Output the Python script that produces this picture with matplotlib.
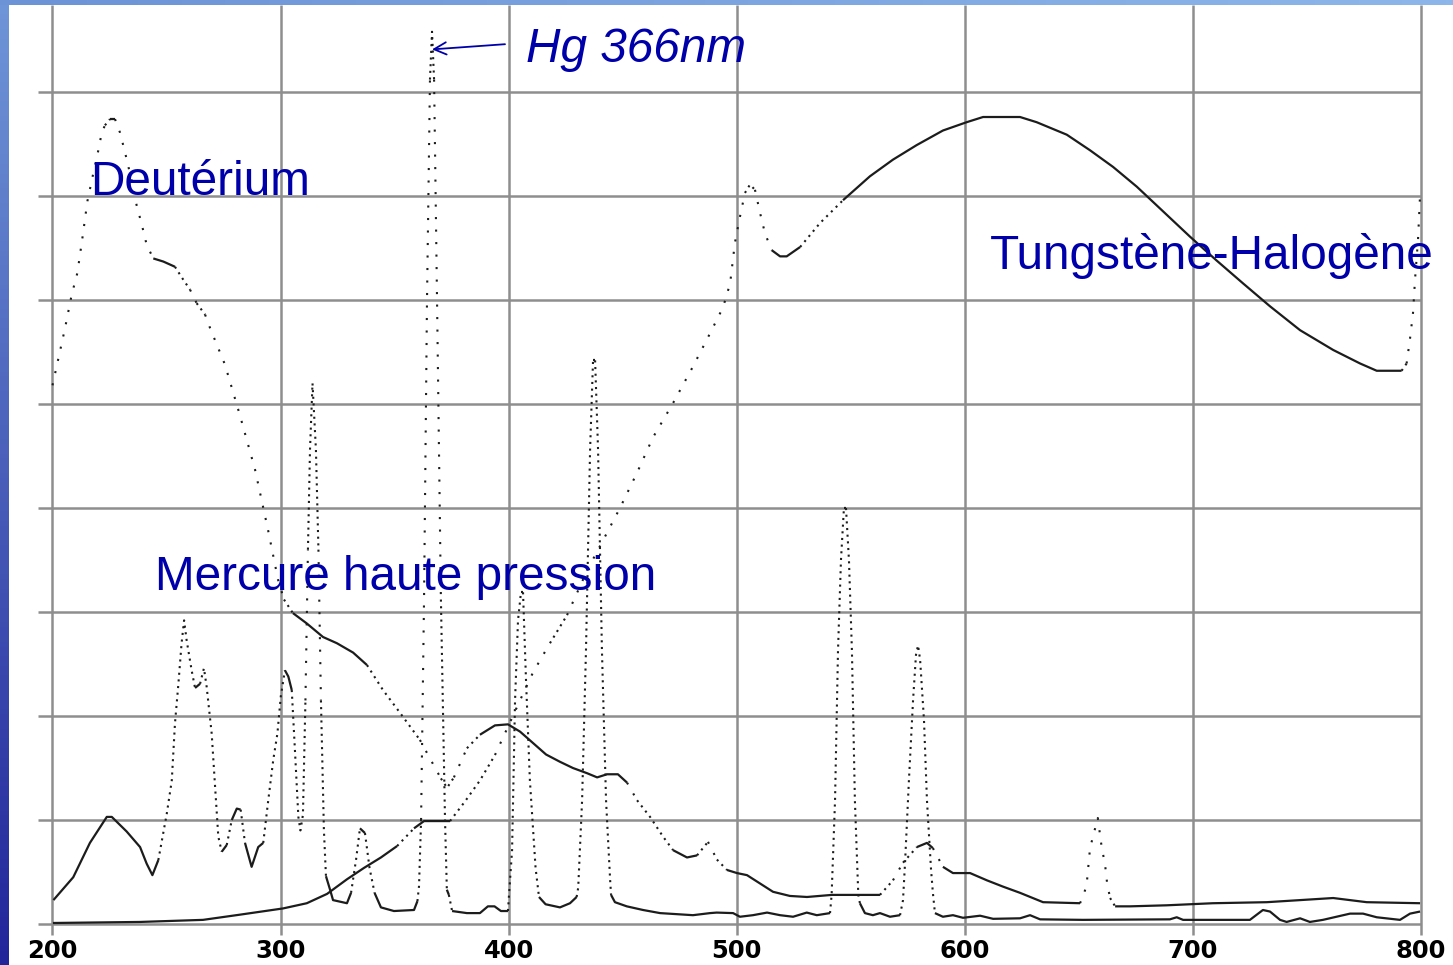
import numpy as np
import matplotlib
matplotlib.use("Agg")
import matplotlib.pyplot as plt
from matplotlib.colors import LinearSegmentedColormap

# Spectres (longueur d'onde en nm, intensité en unités de grille x10)
deut_nm = [200.0, 202.4, 205.5, 208.4, 210.9, 213.2, 215.3, 217.9, 220.1, 221.6, 223.0, 225.2,
           227.4, 229.6, 231.8, 234.7, 236.9, 239.1, 241.3, 244.2, 248.6, 253.7, 256.6, 260.3,
           263.2, 266.9, 269.1, 275.6, 282.2, 288.8, 294.5, 298.9, 301.5, 305.4, 311.5, 318.6,
           324.7, 331.8, 337.9, 344.9, 352.4, 361.1, 366.8, 370.3, 373.0, 376.0, 381.7, 387.4,
           394.0, 399.7, 405.0, 410.7, 416.4, 422.5, 428.2, 434.4, 438.8, 443.1, 447.9, 451.9,
           456.3, 462.0, 467.7, 472.1, 478.2, 482.6, 487.4, 491.3, 495.7, 500.1, 504.5, 510.2,
           515.9, 523.3, 530.8, 541.7, 553.1, 562.8, 568.5, 572.9, 579.0, 583.4, 586.0, 590.4,
           594.8, 602.3, 609.7, 616.7, 624.2, 634.3, 650.5, 651.8, 653.4, 654.9, 658.3, 660.0,
           661.5, 662.4, 663.7, 665.9, 672.4, 688.5, 708.8, 732.4, 747.0, 761.5, 776.2, 799.6]
deut_i = [51.8, 54.2, 57.3, 60.5, 62.6, 66.1, 69.5, 72.2, 74.4, 76.1, 76.8, 77.4,
          77.4, 76.1, 74.2, 71.5, 69.1, 67.3, 65.3, 64.0, 63.7, 63.2, 62.2, 61.0,
          59.7, 58.6, 57.3, 53.8, 48.9, 43.7, 37.9, 33.1, 31.2, 29.9, 28.9, 27.6,
          27.0, 26.1, 24.9, 22.5, 20.3, 17.7, 15.4, 14.0, 13.1, 14.1, 16.9, 18.2,
          19.1, 19.2, 18.5, 17.4, 16.3, 15.6, 15.0, 14.5, 14.1, 14.4, 14.4, 13.6,
          11.9, 10.3, 8.4, 7.1, 6.4, 6.6, 7.9, 6.2, 5.2, 4.9, 4.7, 3.9,
          3.1, 2.7, 2.6, 2.8, 2.8, 2.8, 4.2, 5.9, 7.4, 7.8, 7.3, 5.5,
          4.9, 4.9, 4.2, 3.6, 3.0, 2.1, 2.0, 2.6, 3.75, 7.3, 10.2, 7.4,
          5.7, 3.9, 2.5, 1.7, 1.7, 1.8, 2.0, 2.1, 2.3, 2.5, 2.1, 2.0]

tung_nm = [200.2, 238.4, 266.0, 282.2, 301.1, 311.5, 320.4, 329.1, 336.6, 344.0, 351.1, 358.5,
           362.9, 374.3, 380.9, 387.4, 394.0, 400.6, 405.8, 410.7, 418.1, 425.6, 434.4, 441.4,
           448.8, 456.3, 463.3, 472.1, 480.8, 488.3, 494.0, 497.1, 499.2, 501.4, 503.6, 505.8,
           508.0, 510.2, 512.4, 515.3, 519.0, 521.9, 527.8, 536.5, 546.6, 558.4, 568.5, 578.9,
           590.4, 600.8, 608.0, 624.2, 631.5, 644.7, 654.9, 665.0, 675.4, 685.6, 698.7, 710.4,
           722.0, 733.8, 747.0, 761.5, 773.3, 780.6, 791.5, 793.7, 795.2, 796.5, 797.4, 798.7,
           799.6]
tung_i = [0.1, 0.2, 0.4, 0.9, 1.5, 2.0, 2.9, 4.3, 5.4, 6.4, 7.5, 9.2,
          9.9, 9.9, 11.8, 13.8, 16.25, 19.4, 21.9, 24.2, 27.0, 29.7, 34.0, 36.9,
          40.0, 43.4, 46.8, 50.1, 53.6, 56.8, 59.3, 61.6, 65.5, 68.0, 70.3, 71.1,
          70.6, 68.4, 66.4, 64.8, 64.2, 64.2, 65.1, 67.4, 69.6, 71.9, 73.5, 74.9,
          76.3, 77.1, 77.6, 77.6, 77.1, 75.9, 74.4, 72.8, 70.9, 68.8, 66.1, 63.8,
          61.6, 59.4, 57.1, 55.2, 53.9, 53.2, 53.2, 53.9, 56.3, 58.75, 62.0, 65.8,
          70.1]

hg_nm = [200.4, 209.1, 216.4, 223.8, 226.0, 232.5, 238.4, 241.3, 243.8, 246.4, 250.1, 252.3,
         253.7, 255.2, 256.6, 257.7, 258.8, 261.0, 262.5, 264.7, 266.4, 267.6, 269.8, 271.2,
         272.7, 274.2, 276.4, 278.6, 280.8, 282.5, 284.4, 287.3, 290.2, 292.4, 294.6, 296.8,
         298.6, 300.1, 301.9, 303.4, 304.9, 306.3, 307.8, 308.7, 309.8, 310.9, 312.0, 312.9,
         314.0, 315.5, 316.6, 317.7, 319.0, 319.9, 321.7, 323.0, 329.1, 330.9, 333.1, 334.8,
         337.0, 339.0, 341.2, 344.0, 349.7, 358.5, 360.0, 360.7, 361.6, 362.9, 364.2, 365.5,
         366.4, 367.3, 368.6, 370.3, 372.1, 372.9, 373.8, 375.2, 381.7, 387.4, 390.9, 393.8,
         396.6, 399.7, 400.1, 401.5, 402.8, 404.1, 405.4, 406.3, 407.6, 409.3, 411.8, 413.3,
         416.2, 422.5, 426.9, 429.8, 430.5, 432.2, 433.9, 435.7, 437.0, 437.9, 439.2, 440.9,
         442.7, 444.5, 444.9, 446.6, 451.8, 458.9, 466.4, 480.8, 488.3, 491.2, 498.4, 501.4,
         507.1, 513.3, 519.0, 524.7, 530.7, 535.1, 540.9, 541.6, 543.1, 544.4, 545.7, 547.0,
         547.9, 549.2, 550.5, 551.8, 553.3, 554.0, 556.2, 559.7, 562.8, 567.2, 571.6, 572.9,
         573.8, 575.5, 577.3, 578.6, 579.5, 580.4, 582.1, 583.4, 585.2, 586.0, 586.9, 590.4,
         594.8, 599.2, 606.7, 612.4, 624.2, 628.6, 633.0, 651.8, 689.9, 692.9, 695.7, 725.0,
         730.7, 733.8, 738.2, 741.1, 747.0, 751.3, 757.0, 768.9, 774.6, 780.6, 790.8, 795.2,
         799.6]
hg_i = [2.3, 4.5, 7.8, 10.3, 10.3, 8.9, 7.4, 5.8, 4.7, 6.15, 10.6, 13.8,
        19.3, 23.1, 27.0, 29.2, 27.3, 24.4, 22.7, 23.1, 24.6, 22.8, 18.3, 13.5,
        8.4, 6.95, 7.6, 10.0, 11.1, 11.0, 7.8, 5.5, 7.4, 7.8, 11.9, 15.8,
        18.3, 21.9, 24.4, 23.8, 22.5, 16.7, 10.3, 9.0, 10.5, 21.5, 36.0, 45.6,
        52.0, 45.6, 36.0, 21.5, 9.0, 4.6, 3.3, 2.3, 2.0, 3.0, 6.2, 9.2,
        8.75, 5.4, 3.0, 1.6, 1.25, 1.35, 2.2, 3.65, 10.0, 31.2, 60.0, 81.2,
        85.8, 81.2, 60.0, 31.2, 10.0, 3.3, 2.8, 1.25, 1.05, 1.05, 1.7, 1.7,
        1.25, 1.25, 2.6, 7.1, 21.5, 29.2, 31.9, 31.9, 23.5, 13.85, 5.4, 2.6,
        1.9, 1.6, 2.0, 2.6, 3.5, 11.9, 26.3, 45.6, 54.2, 54.2, 45.6, 26.3,
        11.9, 4.2, 2.8, 2.1, 1.7, 1.35, 1.05, 0.85, 1.05, 1.1, 1.05, 0.7,
        0.85, 1.1, 0.85, 0.7, 1.1, 0.85, 1.05, 2.8, 11.9, 26.3, 35.0, 40.0,
        40.0, 35.0, 26.3, 11.9, 2.8, 2.0, 1.05, 0.85, 1.05, 0.7, 0.85, 2.3,
        5.9, 13.85, 21.5, 25.9, 26.8, 25.4, 19.6, 11.9, 5.2, 3.0, 1.05, 0.7,
        0.85, 0.6, 0.8, 0.5, 0.55, 0.85, 0.45, 0.4, 0.45, 0.65, 0.4, 0.4,
        1.35, 1.2, 0.4, 0.2, 0.55, 0.2, 0.4, 1.0, 1.0, 0.65, 0.4, 1.0,
        1.2]

x_ticks = [200, 300, 400, 500, 600, 700, 800]
y_levels = [0, 10, 20, 30, 40, 50, 60, 70, 80]

W, H = 1453, 965
fig = plt.figure(figsize=(W / 100, H / 100), dpi=100)
fig.patch.set_facecolor("white")

# bandeau bleu (fond de diapositive)
blue = LinearSegmentedColormap.from_list("b", ["#6f96d8", "#22259a"])
left = fig.add_axes([0, 0, 9 / W, 1])
left.imshow(np.linspace(0, 1, 200).reshape(-1, 1), cmap=blue, aspect="auto")
left.axis("off")
top_cm = LinearSegmentedColormap.from_list("t", ["#6c93d6", "#8db7ea"])
top = fig.add_axes([0, 1 - 5 / H, 1, 5 / H])
top.imshow(np.linspace(0, 1, 200).reshape(1, -1), cmap=top_cm, aspect="auto")
top.axis("off")

ax = fig.add_axes([9 / W, 0, (W - 9) / W, (H - 5) / H])
ax.set_xlim(180.93, 814.04)
ax.set_ylim(-3.94, 88.37)
ax.axis("off")

grid_c = "#8e8e8e"
ax.vlines(x_ticks, -1.06, 88.37, color=grid_c, lw=1.8, zorder=1)
ax.hlines(y_levels, 193.6, 800, color=grid_c, lw=1.8, zorder=1)

for t in x_ticks:
    ax.text(t, -2.6, str(t), ha="center", va="center", fontsize=17.5,
            fontweight="heavy", family="DejaVu Sans", color="black")

PATTERNS = {1: (0, (1, 2.2)), 2: (0, (1, 5))}


def draw_curve(nm, inten, t_dense, t_sparse):
    # aspect du tracé d'origine : pentes fortes en pointillés, faibles en trait plein
    nm = np.asarray(nm)
    inten = np.asarray(inten)
    pts = ax.transData.transform(np.column_stack([nm, inten]))
    d = np.diff(pts, axis=0)
    s = np.abs(d[:, 1]) / np.maximum(np.abs(d[:, 0]), 1e-6)
    kind = np.where(s > t_sparse, 2, np.where(s > t_dense, 1, 0))
    start = 0
    for k in range(1, len(kind) + 1):
        if k == len(kind) or kind[k] != kind[start]:
            xs, ys = nm[start:k + 1], inten[start:k + 1]
            if kind[start]:
                ax.plot(xs, ys, color="#1c1c1c", lw=1.5, linestyle=PATTERNS[kind[start]],
                        dash_capstyle="butt", zorder=3)
            else:
                ax.plot(xs, ys, color="#1c1c1c", lw=1.6, solid_capstyle="butt", zorder=3)
            start = k


draw_curve(deut_nm, deut_i, 0.95, 1.7)
draw_curve(tung_nm, tung_i, 0.95, 1.7)
draw_curve(hg_nm, hg_i, 4.0, 60.0)

lab = dict(color="#0000aa", fontsize=34.4, family="Liberation Sans", va="baseline",
           ha="left", zorder=4)
ax.text(216.4, 70.1, "Deutérium", **lab)
ax.text(244.8, 32.1, "Mercure haute pression", **lab)
ax.text(611.0, 63.0, "Tungstène-Halogène", **lab)
ax.text(407.6, 82.9, "Hg 366nm", style="italic", **lab)
ax.annotate("", xy=(366.4, 84.1), xytext=(398.4, 84.6),
            arrowprops=dict(arrowstyle="->", color="#0000aa", lw=1.3,
                            mutation_scale=22, shrinkA=0, shrinkB=0), zorder=4)

fig.savefig("out.png", dpi=100, facecolor="white")
